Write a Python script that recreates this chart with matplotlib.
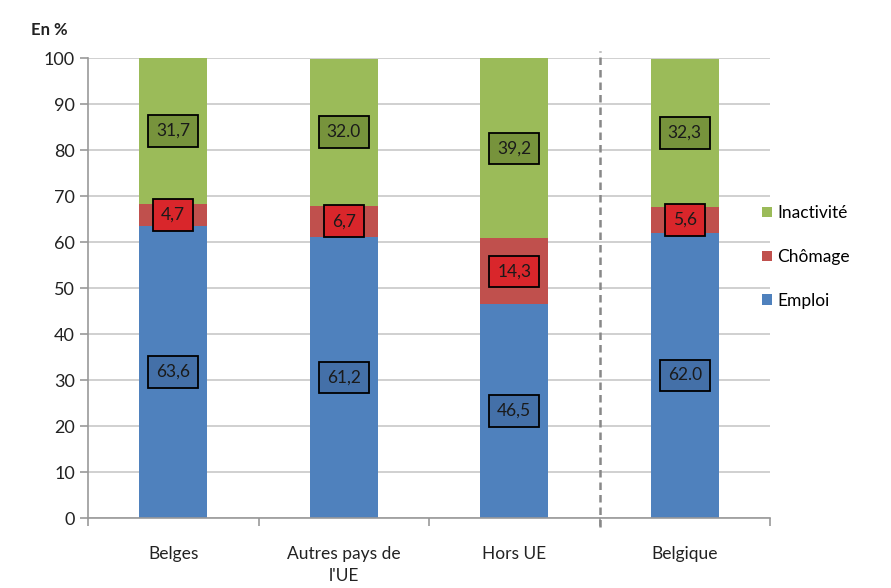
import matplotlib.pyplot as plt

categories = ["Belges", "Autres pays de\nl'UE", "Hors UE", "Belgique"]
emploi = [63.6, 61.2, 46.5, 62.0]
chomage = [4.7, 6.7, 14.3, 5.6]
inactivite = [31.7, 32.0, 39.2, 32.3]
emploi_labels = ["63,6", "61,2", "46,5", "62.0"]
chomage_labels = ["4,7", "6,7", "14,3", "5,6"]
inactivite_labels = ["31,7", "32.0", "39,2", "32,3"]

plt.rcParams['font.family'] = ['Lato', 'DejaVu Sans']

fig = plt.figure(figsize=(8.91, 5.88), dpi=100)
ax = fig.add_axes([0.0988, 0.119, 0.7654, 0.782])

x = range(len(categories))
w = 0.4
blue, red, green = "#4F81BD", "#C0504D", "#9BBB59"

bottom2 = [e + c for e, c in zip(emploi, chomage)]
ax.bar(x, emploi, w, color=blue, label="Emploi", zorder=2)
ax.bar(x, chomage, w, bottom=emploi, color=red, label="Chômage", zorder=2)
ax.bar(x, inactivite, w, bottom=bottom2, color=green, label="Inactivité", zorder=2)

def box(xi, y, txt, fc):
    ax.text(xi, y, txt, ha="center", va="center", fontsize=12.5, color="#1a1a1a", zorder=4,
            bbox=dict(boxstyle="square,pad=0.45", fc=fc, ec="black", lw=1.3))

for i in x:
    box(i, emploi[i] / 2, emploi_labels[i], "#4470A8")
    box(i, emploi[i] + chomage[i] / 2, chomage_labels[i], "#D9262B")
    box(i, bottom2[i] + min(inactivite[i], 100 - bottom2[i]) / 2, inactivite_labels[i], "#77933C")

ax.set_xlim(-0.5, 3.5)
ax.set_ylim(0, 100)
ax.set_yticks(range(0, 101, 10))
ax.yaxis.grid(True, color="#c8c8c8", lw=1.2, zorder=0)
ax.set_axisbelow(True)

# category ticks sit between the groups
ax.set_xticks([-0.5, 0.5, 1.5, 2.5, 3.5])
ax.set_xticklabels([])
ax.set_xticks(list(x), minor=True)
ax.set_xticklabels(categories, minor=True, fontsize=12.5, color="#222222", linespacing=1.5)
ax.tick_params(axis="x", which="minor", length=0, pad=20)
ax.tick_params(axis="x", which="major", length=6, color="#999999", width=1.2)
ax.tick_params(axis="y", length=6, color="#999999", width=1.2, labelsize=13, labelcolor="#222222")

for s in ["top", "right"]:
    ax.spines[s].set_visible(False)
for s in ["left", "bottom"]:
    ax.spines[s].set_color("#999999")
    ax.spines[s].set_linewidth(1.2)

# separator before the national total
ax.plot([2.5, 2.5], [-2, 101.5], ls=(0, (3, 2)), color="#888888", lw=1.8, clip_on=False, zorder=3)

ax.text(-0.03, 1.045, "En %", transform=ax.transAxes, ha="right", va="bottom",
        fontsize=12, fontweight="bold", color="#222222")

h, l = ax.get_legend_handles_labels()
leg = fig.legend(h[::-1], l[::-1], loc="center left", bbox_to_anchor=(0.838, 0.563),
                 frameon=False, fontsize=12.5, handlelength=0.55, handleheight=0.55,
                 handletextpad=0.3, labelspacing=1.6)

fig.savefig("out.png", dpi=100)
